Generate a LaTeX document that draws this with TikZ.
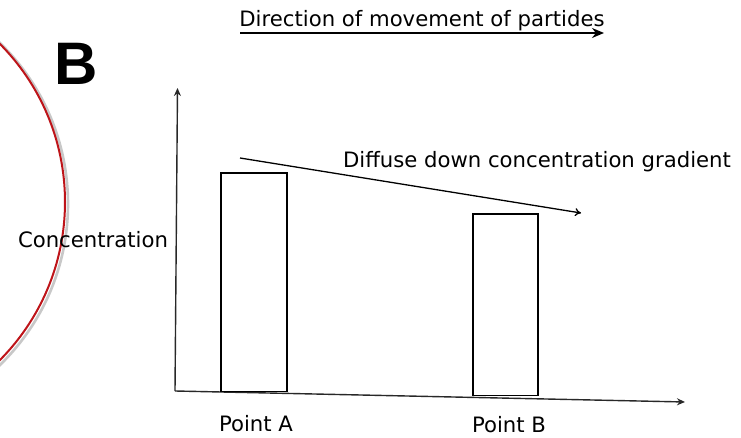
\documentclass[tikz,border=0pt]{standalone}
\usepackage{fontspec}
\setmainfont{DejaVu Sans}
\newfontfamily\boldsans{Liberation Sans}
\usetikzlibrary{positioning,calc}
\usetikzlibrary{arrows.meta}
\definecolor{RingRed}{RGB}{190,20,25}
\definecolor{RingShade}{RGB}{200,200,200}
\definecolor{AxisGray}{RGB}{40,40,40}
\tikzset{
  axis/.style={draw=AxisGray,line width=1.4pt,-{Stealth[length=8pt,width=7pt]}},
  bar/.style={draw=black,line width=1.8pt},
  lbl/.style={font=\fontsize{21.2}{25}\selectfont,inner sep=0pt,anchor=base},
}
\tikzset{flow/.style={draw=black,line width=1.5pt,-{Stealth[length=12pt,width=10pt]}}, slope/.style={draw=black,line width=1.3pt,-{To[length=6pt,width=8pt]}}}

\begin{document}
\begin{tikzpicture}[x=1pt,y=1pt]
\useasboundingbox (0,0) rectangle (741,438);
\begin{scope}
\clip (0,0) rectangle (741,438);
\draw[RingShade,line width=2.6pt] (-156.5,234) circle (224.5);
\draw[RingRed,line width=2pt] (-159.5,236) circle (224.5);
\end{scope}
\node[lbl,font=\boldsans\bfseries\fontsize{60}{60}\selectfont] (panel) at (76,353) {B};
% axes
\coordinate (origin) at (175,47);
\coordinate (ytip) at (177.5,350);
\coordinate (xtip) at (685,36);
\draw[axis] (origin) -- (ytip);
\draw[axis] (origin) -- (xtip);
% bars
\coordinate (a0) at (221,46.5);
\coordinate (a1) at (287,265);
\coordinate (b0) at (473,42.5);
\coordinate (b1) at (538,224);
\draw[bar] (a0) rectangle (a1);
\draw[bar] (b0) rectangle (b1);
% labels
\node[lbl] (title) at (422,411) {Direction of movement of partides};
\coordinate (t0) at (240,405);
\coordinate (t1) at (604,405);
\draw[flow] (t0) -- (t1);
\node[lbl] (diffuse) at (537,270) {Diffuse down concentration gradient};
\coordinate (d0) at (240,280);
\coordinate (d1) at (581,225);
\draw[slope] (d0) -- (d1);
\node[lbl] (yname) at (93,190) {Concentration};
\node[lbl] (pa) at (256,6) {Point A};
\node[lbl] (pb) at (509,5) {Point B};
\end{tikzpicture}
\end{document}
